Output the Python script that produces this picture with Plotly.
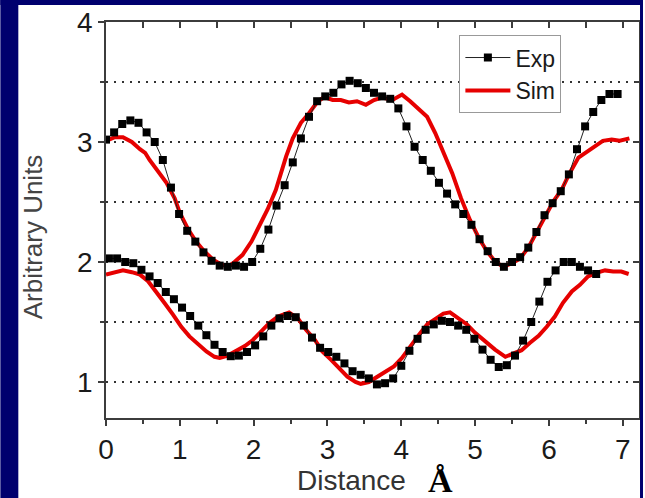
import plotly.graph_objects as go

# ---- data ----
exp_x_upper = [0.00, 0.11, 0.22, 0.33, 0.44, 0.55, 0.66, 0.77, 0.88, 0.99,
               1.10, 1.21, 1.32, 1.43, 1.54, 1.65, 1.76, 1.87, 1.98, 2.09,
               2.20, 2.31, 2.42, 2.53, 2.64, 2.75, 2.86, 2.97, 3.08, 3.19,
               3.30, 3.41, 3.52, 3.63, 3.74, 3.85, 3.96, 4.07, 4.18, 4.29,
               4.40, 4.51, 4.62, 4.73, 4.84, 4.95, 5.06, 5.17, 5.28, 5.39,
               5.50, 5.61, 5.72, 5.83, 5.94, 6.05, 6.16, 6.27, 6.38, 6.49,
               6.60, 6.71, 6.82, 6.93]
exp_y_upper = [3.02, 3.08, 3.15, 3.18, 3.16, 3.08, 3.00, 2.85, 2.62, 2.40,
               2.26, 2.17, 2.08, 2.01, 1.97, 1.96, 1.97, 1.96, 2.00, 2.11,
               2.27, 2.47, 2.64, 2.83, 3.03, 3.21, 3.34, 3.38, 3.41, 3.48,
               3.51, 3.49, 3.45, 3.41, 3.38, 3.36, 3.28, 3.13, 2.96, 2.85,
               2.76, 2.66, 2.57, 2.48, 2.40, 2.31, 2.19, 2.09, 2.00, 1.96,
               2.00, 2.04, 2.12, 2.25, 2.39, 2.49, 2.59, 2.73, 2.94, 3.13,
               3.25, 3.35, 3.40, 3.40]

exp_x_lower = [0.04, 0.15, 0.26, 0.37, 0.48, 0.59, 0.70, 0.81, 0.92, 1.03,
               1.14, 1.25, 1.36, 1.47, 1.58, 1.69, 1.80, 1.91, 2.02, 2.13,
               2.24, 2.35, 2.46, 2.57, 2.68, 2.79, 2.90, 3.01, 3.12, 3.23,
               3.34, 3.45, 3.56, 3.67, 3.78, 3.89, 4.00, 4.11, 4.22, 4.33,
               4.44, 4.55, 4.66, 4.77, 4.88, 4.99, 5.10, 5.21, 5.32, 5.43,
               5.54, 5.65, 5.76, 5.87, 5.98, 6.09, 6.20, 6.31, 6.42, 6.53,
               6.64]
exp_y_lower = [2.03, 2.03, 2.00, 1.99, 1.935, 1.88, 1.825, 1.75, 1.69, 1.62,
               1.55, 1.47, 1.39, 1.31, 1.25, 1.215, 1.22, 1.25, 1.305, 1.38,
               1.47, 1.53, 1.55, 1.54, 1.47, 1.37, 1.285, 1.25, 1.21, 1.155,
               1.09, 1.06, 1.03, 0.98, 0.99, 1.03, 1.135, 1.26, 1.36, 1.435,
               1.48, 1.51, 1.50, 1.47, 1.435, 1.36, 1.27, 1.185, 1.125, 1.14,
               1.22, 1.345, 1.50, 1.67, 1.835, 1.93, 2.00, 2.00, 1.96, 1.93,
               1.90]

sim_x_upper = [0.00, 0.12, 0.23, 0.35, 0.46, 0.53, 0.59, 0.71, 0.82, 0.93,
               1.00, 1.11, 1.22, 1.33, 1.45, 1.56, 1.65, 1.74, 1.85, 1.97,
               2.08, 2.19, 2.30, 2.44, 2.53, 2.64, 2.75, 2.87, 2.96, 3.07,
               3.18, 3.29, 3.40, 3.52, 3.63, 3.74, 3.88, 4.01, 4.12, 4.24,
               4.35, 4.46, 4.57, 4.69, 4.81, 4.93, 5.05, 5.16, 5.27, 5.38,
               5.50, 5.61, 5.72, 5.83, 5.95, 6.06, 6.17, 6.28, 6.40, 6.51,
               6.62, 6.73, 6.85, 6.96, 7.09]
sim_y_upper = [3.01, 3.04, 3.04, 3.00, 2.94, 2.91, 2.85, 2.755, 2.66, 2.53,
               2.41, 2.275, 2.17, 2.09, 2.02, 1.98, 1.96, 2.00, 2.06, 2.17,
               2.30, 2.44, 2.60, 2.88, 3.03, 3.16, 3.24, 3.34, 3.375, 3.35,
               3.35, 3.33, 3.34, 3.31, 3.35, 3.37, 3.35, 3.395, 3.34, 3.27,
               3.21, 3.075, 2.92, 2.74, 2.53, 2.35, 2.20, 2.09, 2.005, 1.96,
               1.99, 2.03, 2.12, 2.24, 2.38, 2.505, 2.60, 2.74, 2.87, 2.92,
               2.97, 3.01, 3.02, 3.01, 3.03]

sim_x_lower = [0.00, 0.12, 0.23, 0.35, 0.46, 0.57, 0.68, 0.79, 0.91, 1.02,
               1.13, 1.25, 1.36, 1.47, 1.54, 1.65, 1.76, 1.88, 1.99, 2.10,
               2.21, 2.33, 2.48, 2.60, 2.71, 2.83, 2.93, 3.05, 3.16, 3.27,
               3.38, 3.45, 3.56, 3.67, 3.79, 3.90, 4.01, 4.12, 4.24, 4.35,
               4.46, 4.57, 4.66, 4.78, 4.89, 5.00, 5.16, 5.27, 5.41, 5.52,
               5.63, 5.74, 5.86, 5.97, 6.08, 6.19, 6.31, 6.42, 6.53, 6.64,
               6.76, 6.87, 6.98, 7.08]
sim_y_lower = [1.895, 1.915, 1.93, 1.915, 1.895, 1.84, 1.755, 1.66, 1.56, 1.46,
               1.38, 1.31, 1.255, 1.21, 1.20, 1.22, 1.255, 1.30, 1.35, 1.42,
               1.49, 1.545, 1.58, 1.53, 1.435, 1.35, 1.255, 1.185, 1.115, 1.045,
               1.00, 0.985, 1.00, 1.045, 1.09, 1.13, 1.20, 1.30, 1.395, 1.48,
               1.53, 1.57, 1.58, 1.53, 1.48, 1.41, 1.325, 1.27, 1.21, 1.235,
               1.265, 1.325, 1.385, 1.46, 1.545, 1.66, 1.755, 1.81, 1.88, 1.91,
               1.93, 1.92, 1.92, 1.90]

x_ticks = [0, 1, 2, 3, 4, 5, 6, 7]
y_ticks = [1, 2, 3, 4]

NARROW = "Liberation Sans Narrow, Arial Narrow, Liberation Sans, Arial, sans-serif"
SANS = "Liberation Sans, Arial, sans-serif"
RED = "#e60000"
AX = "#3c3c3c"
NAVY = "#00006e"

fig = go.Figure()

# Sim (drawn first so Exp markers sit on top)
fig.add_trace(go.Scatter(x=sim_x_upper, y=sim_y_upper, mode="lines",
                         line=dict(color=RED, width=4), name="Sim",
                         legendgroup="sim", legendrank=2, showlegend=True))
fig.add_trace(go.Scatter(x=sim_x_lower, y=sim_y_lower, mode="lines",
                         line=dict(color=RED, width=4), name="Sim",
                         legendgroup="sim", legendrank=2, showlegend=False))
# Exp
fig.add_trace(go.Scatter(x=exp_x_upper, y=exp_y_upper, mode="lines+markers",
                         line=dict(color="#222222", width=1),
                         marker=dict(symbol="square", size=8, color="black"),
                         name="Exp", legendgroup="exp", legendrank=1, showlegend=True))
fig.add_trace(go.Scatter(x=exp_x_lower, y=exp_y_lower, mode="lines+markers",
                         line=dict(color="#222222", width=1),
                         marker=dict(symbol="square", size=8, color="black"),
                         name="Exp", legendgroup="exp", legendrank=1, showlegend=False))

# empty carrier traces so the mirrored top / right axes get drawn
fig.add_trace(go.Scatter(x=[], y=[], xaxis="x2", yaxis="y", showlegend=False,
                         hoverinfo="skip"))
fig.add_trace(go.Scatter(x=[], y=[], xaxis="x", yaxis="y2", showlegend=False,
                         hoverinfo="skip"))

XR = [0, 7.22]
YR = [0.7, 4.0]

fig.update_layout(
    width=645, height=498,
    margin=dict(l=106, r=4, t=22, b=80),
    paper_bgcolor="white", plot_bgcolor="white",
    showlegend=True,
    legend=dict(x=0.663, y=0.967, xanchor="left", yanchor="top",
                bgcolor="white", bordercolor="#999999", borderwidth=1,
                font=dict(family=NARROW, size=23, color="#1a1a1a"),
                tracegroupgap=0, itemwidth=45),
    xaxis=dict(range=XR, tickvals=x_ticks, ticks="outside", ticklen=6,
               tickwidth=1.5, tickcolor=AX, showline=True, linecolor=AX,
               linewidth=1.5, showgrid=False, zeroline=False, mirror=True,
               tickfont=dict(family=NARROW, size=28, color="#1a1a1a"),
               minor=dict(dtick=0.5, tick0=0, ticks="outside", ticklen=4,
                          tickwidth=1.5, tickcolor=AX, showgrid=False)),
    yaxis=dict(range=YR, tickvals=y_ticks, ticks="outside", ticklen=6,
               tickwidth=1.5, tickcolor=AX, showline=True, linecolor=AX,
               linewidth=1.5, zeroline=False, mirror=True,
               showgrid=True, gridcolor="#333333", gridwidth=2, griddash="2px,6px",
               tickfont=dict(family=NARROW, size=28, color="#1a1a1a"),
               minor=dict(dtick=0.5, tick0=0, ticks="outside", ticklen=4,
                          tickwidth=1.5, tickcolor=AX, showgrid=True,
                          gridcolor="#333333", gridwidth=2, griddash="2px,6px")),
    xaxis2=dict(range=XR, overlaying="x", side="top", anchor="y",
                tickvals=x_ticks, ticks="inside", ticklen=6, tickwidth=1.5,
                tickcolor=AX, showticklabels=False, showline=True, linecolor=AX,
                linewidth=1.5, showgrid=False, zeroline=False,
                minor=dict(dtick=0.5, tick0=0, ticks="inside", ticklen=6,
                           tickwidth=1.5, tickcolor=AX, showgrid=False)),
    yaxis2=dict(range=YR, overlaying="y", side="right", anchor="x",
                tickvals=y_ticks, ticks="inside", ticklen=6, tickwidth=1.5,
                tickcolor=AX, showticklabels=False, showline=True, linecolor=AX,
                linewidth=1.5, showgrid=False, zeroline=False,
                minor=dict(dtick=0.5, tick0=0, ticks="inside", ticklen=4,
                           tickwidth=1.5, tickcolor=AX, showgrid=False)),
)

# navy frame strips (left, top, right)
for x0, x1, y0, y1 in [(-0.1982, -0.1645, -0.203, 1.056),
                       (-0.1982, 1.0075, 1.0429, 1.056),
                       (1.0019, 1.0075, -0.203, 1.056)]:
    fig.add_shape(type="rect", xref="paper", yref="paper",
                  x0=x0, x1=x1, y0=y0, y1=y1, fillcolor=NAVY,
                  line=dict(width=0), layer="above")

fig.add_annotation(text="Arbitrary Units", xref="paper", yref="paper",
                   x=-0.1364, y=0.457, textangle=-90, showarrow=False,
                   xanchor="center", yanchor="middle",
                   font=dict(family=SANS, size=26, color="#444444"))
fig.add_annotation(text="Distance", xref="paper", yref="paper",
                   x=0.4598, y=-0.159, showarrow=False,
                   xanchor="center", yanchor="middle",
                   font=dict(family=NARROW, size=28, color="#333333"))
fig.add_annotation(text="<b>Å</b>", xref="paper", yref="paper",
                   x=0.628, y=-0.1566, showarrow=False,
                   xanchor="center", yanchor="middle",
                   font=dict(family="Liberation Serif, Times New Roman, serif",
                             size=34, color="black"))

fig.write_html("out.html",
               config={"displayModeBar": False},
               post_script="document.body.style.margin='0';"
                           "document.body.style.padding='0';"
                           "document.documentElement.style.overflow='hidden';")
